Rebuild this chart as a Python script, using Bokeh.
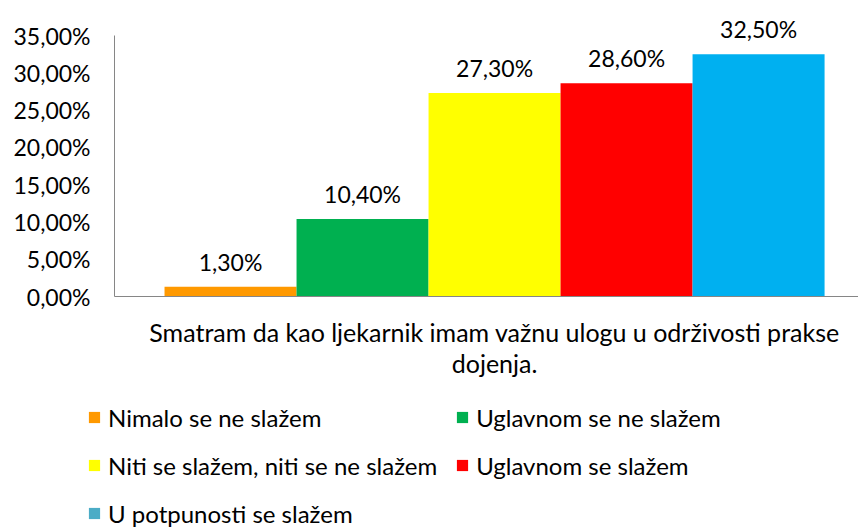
from bokeh.plotting import figure
from bokeh.models import ColumnDataSource, Legend, LegendItem, FixedTicker, Range1d
from bokeh.layouts import column
from bokeh.embed import file_html
from bokeh.resources import INLINE
from bokeh.core.properties import value

# ---- data ----
categories = [
    "Nimalo se ne slažem",
    "Uglavnom se ne slažem",
    "Niti se slažem, niti se ne slažem",
    "Uglavnom se slažem",
    "U potpunosti se slažem",
]
values = [1.3, 10.4, 27.3, 28.6, 32.5]
bar_colors = ["#FF9900", "#00B050", "#FFFF00", "#FF0000", "#00B0F0"]
legend_colors = ["#FF9900", "#00B050", "#FFFF00", "#FF0000", "#4BACC6"]
question = "Smatram da kao ljekarnik imam važnu ulogu u održivosti prakse\ndojenja."
y_ticks = [0, 5, 10, 15, 20, 25, 30, 35]
y_tick_labels = ["0,00%", "5,00%", "10,00%", "15,00%", "20,00%", "25,00%", "30,00%", "35,00%"]

FONT = "Lato"

positions = [1, 2, 3, 4, 5]
labels = [f"{v:.2f}".replace(".", ",") + "%" for v in values]
src = ColumnDataSource(dict(x=positions, top=values, color=bar_colors, label=labels))

MAIN_H = 390
p = figure(
    width=858, height=MAIN_H,
    x_range=Range1d(0.121, 5.757), y_range=Range1d(0, 35 * 296 / 261),
    output_backend="svg", toolbar_location=None,
    min_border_left=114, min_border_right=0, min_border_top=0, min_border_bottom=MAIN_H - 296,
)
p.frame_align = False
p.outline_line_color = None
p.grid.grid_line_color = None
p.background_fill_color = "white"

p.vbar(x="x", top="top", width=1.0, bottom=0, fill_color="color", line_color=None, source=src)

p.text(x="x", y="top", text="label", source=src, text_align="center", text_baseline="bottom",
       y_offset=-11, text_font=value(FONT), text_font_size="23px", text_color="#000000")

# y axis
p.yaxis.ticker = FixedTicker(ticks=y_ticks)
p.yaxis.bounds = (0, 35)
p.yaxis.major_label_overrides = {t: l for t, l in zip(y_ticks, y_tick_labels)}
p.yaxis.axis_line_color = "#868686"
p.yaxis.major_tick_line_color = None
p.yaxis.minor_tick_line_color = None
p.yaxis.major_tick_in = 0
p.yaxis.major_tick_out = 0
p.yaxis.major_label_standoff = 24
p.yaxis.major_label_text_font = FONT
p.yaxis.major_label_text_font_size = "23px"
p.yaxis.major_label_text_color = "#000000"

# x axis
p.xaxis.ticker = FixedTicker(ticks=[3])
p.xaxis.major_label_overrides = {3: question}
p.xaxis.axis_line_color = "#868686"
p.xaxis.major_tick_line_color = None
p.xaxis.minor_tick_line_color = None
p.xaxis.major_tick_in = 0
p.xaxis.major_tick_out = 0
p.xaxis.major_label_standoff = 20
p.xaxis.major_label_text_font = FONT
p.xaxis.major_label_text_font_size = "25px"
p.xaxis.major_label_text_color = "#000000"
p.xaxis.major_label_text_line_height = 1.05

# legend in its own blank figure below
LEG_H = 527 - MAIN_H
q = figure(
    width=858, height=LEG_H, x_range=Range1d(0, 1), y_range=Range1d(0, 1),
    output_backend="svg", toolbar_location=None,
    x_axis_location=None, y_axis_location=None,
    min_border_left=0, min_border_right=0, min_border_top=0, min_border_bottom=0,
)
q.frame_align = False
q.outline_line_color = None
q.grid.grid_line_color = None

leg_src = ColumnDataSource(dict(x=positions, top=values, color=legend_colors))
leg_r = q.vbar(x="x", top="top", width=1.0, fill_color="color", line_color=None,
               source=leg_src, visible=False)

# row-major order (Bokeh fills columns first)
order = [0, 2, 4, 1, 3]
items = [LegendItem(label=categories[i], renderers=[leg_r], index=i) for i in order]

legend = Legend(
    items=items, ncols=2, location=(87, -1),
    glyph_width=14, glyph_height=14, label_standoff=7,
    label_text_font=FONT, label_text_font_size="24px", label_text_color="#000000",
    label_height=30, spacing=18, padding=0, margin=0,
    border_line_color=None, background_fill_alpha=0,
    inactive_fill_alpha=0,
)
q.add_layout(legend, "center")

layout = column(p, q, spacing=0)
open("out.html", "w").write(file_html(layout, INLINE))
